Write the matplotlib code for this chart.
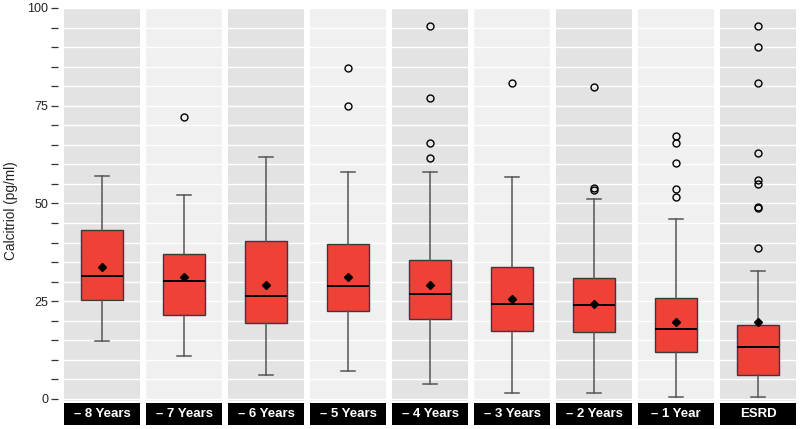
import matplotlib
matplotlib.use('Agg')
import matplotlib.pyplot as plt

plt.rcParams['font.family'] = ['Liberation Sans', 'DejaVu Sans']

# box statistics per period (pg/ml)
labels = ['– 8 Years', '– 7 Years', '– 6 Years', '– 5 Years', '– 4 Years',
          '– 3 Years', '– 2 Years', '– 1 Year', 'ESRD']
whis_lo = [14.8, 11.0, 6.1, 7.2, 3.8, 1.4, 1.5, 0.4, 0.6]
q1 = [25.2, 21.4, 19.4, 22.4, 20.4, 17.4, 17.0, 11.9, 6.1]
med = [31.4, 30.2, 26.4, 29.0, 26.8, 24.2, 24.0, 18.0, 13.2]
q3 = [43.2, 37.0, 40.4, 39.6, 35.5, 33.7, 30.9, 25.7, 18.9]
whis_hi = [57.0, 52.1, 61.9, 58.1, 58.1, 56.7, 51.2, 46.0, 32.8]
means = [33.8, 31.1, 29.2, 31.1, 29.2, 25.6, 24.2, 19.7, 19.7]
outliers = [[], [72.1], [], [84.7, 74.9], [95.5, 77.0, 65.4, 61.6], [80.9],
            [79.9, 54.0, 53.4], [67.3, 65.4, 60.3, 53.6, 51.6],
            [95.5, 90.1, 80.7, 63.0, 56.0, 55.1, 49.2, 48.8, 38.7]]

yticks = list(range(0, 101, 5))
ylabels = [str(t) if t % 25 == 0 else '' for t in yticks]

W, H = 800, 429
fig = plt.figure(figsize=(W / 100, H / 100), dpi=100)

left0, step, pw = 64, 82, 76
ptop, pbot = 8, 400.5
stop, sbot = 403, 425

for i, lab in enumerate(labels):
    x0 = left0 + i * step
    ax = fig.add_axes([x0 / W, 1 - pbot / H, pw / W, (pbot - ptop) / H])
    ax.set_facecolor('#e3e3e3' if i % 2 == 0 else '#f0f0f0')
    stats = [{'whislo': whis_lo[i], 'q1': q1[i], 'med': med[i], 'q3': q3[i],
              'whishi': whis_hi[i], 'mean': means[i], 'fliers': outliers[i]}]
    ax.bxp(stats, positions=[1], widths=0.55, capwidths=0.19, showmeans=True,
           patch_artist=True,
           boxprops=dict(facecolor='#ef4136', edgecolor='#3a3a3a', linewidth=1.0),
           medianprops=dict(color='black', linewidth=1.4),
           whiskerprops=dict(color='#555555', linewidth=1.1),
           capprops=dict(color='#555555', linewidth=1.1),
           meanprops=dict(marker='D', markerfacecolor='black',
                          markeredgecolor='black', markersize=3.6),
           flierprops=dict(marker='o', markerfacecolor='none',
                           markeredgecolor='black', markersize=5, markeredgewidth=1.0))
    ax.set_xlim(0.5, 1.5)
    ax.set_ylim(-0.4, 100)
    ax.set_yticks(yticks)
    ax.set_yticklabels(ylabels)
    ax.set_xticks([])
    ax.grid(axis='y', color='white', linewidth=1.0)
    ax.set_axisbelow(True)
    for s in ax.spines.values():
        s.set_visible(False)
    if i == 0:
        ax.spines['left'].set_position(('outward', 4.5))
        ax.tick_params(axis='y', length=5, width=0.9, color='#333333',
                       pad=1.8, labelsize=9, labelcolor='#222222')
    else:
        ax.tick_params(axis='y', left=False, labelleft=False)

    sax = fig.add_axes([x0 / W, 1 - sbot / H, pw / W, (sbot - stop) / H])
    sax.set_facecolor('black')
    sax.set_xticks([])
    sax.set_yticks([])
    for s in sax.spines.values():
        s.set_visible(False)
    sax.text(0.5, 0.48, lab, color='white', fontsize=9.5, fontweight='bold',
             ha='center', va='center', transform=sax.transAxes)

fig.text(11.5 / W, 1 - 211 / H, 'Calcitriol (pg/ml)', rotation=90,
         ha='center', va='center', fontsize=9.8, color='#222222')

fig.savefig('out.png', dpi=100, facecolor='white')
